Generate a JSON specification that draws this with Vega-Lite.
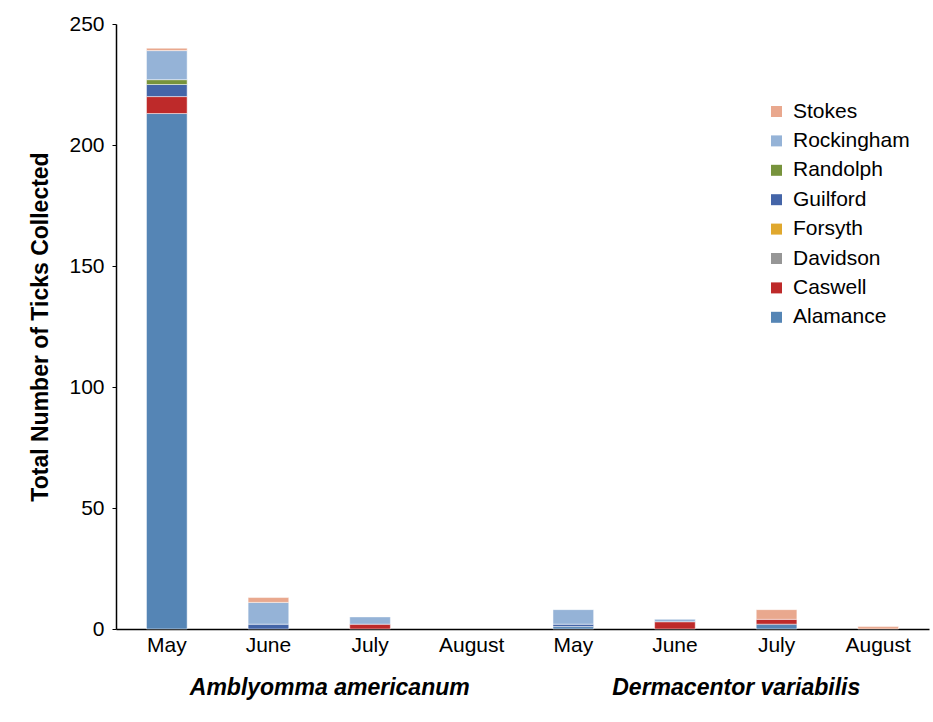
{
  "$schema": "https://vega.github.io/schema/vega-lite/v6.json",
  "autosize": "none",
  "width": 813,
  "height": 605,
  "padding": {"left": 116, "top": 24, "right": 4, "bottom": 93},
  "background": "white",
  "config": {
    "font": "Liberation Sans",
    "view": {"stroke": null},
    "axis": {"labelColor": "black", "titleColor": "black", "domainColor": "black", "tickColor": "black", "grid": false}
  },
  "layer": [
    {
      "data": {
        "values": [
          {"species": "Amblyomma americanum", "month": "May", "county": "Alamance", "count": 213},
          {"species": "Amblyomma americanum", "month": "May", "county": "Caswell", "count": 7},
          {"species": "Amblyomma americanum", "month": "May", "county": "Guilford", "count": 5},
          {"species": "Amblyomma americanum", "month": "May", "county": "Randolph", "count": 2},
          {"species": "Amblyomma americanum", "month": "May", "county": "Rockingham", "count": 12},
          {"species": "Amblyomma americanum", "month": "May", "county": "Stokes", "count": 1},
          {"species": "Amblyomma americanum", "month": "June", "county": "Guilford", "count": 2},
          {"species": "Amblyomma americanum", "month": "June", "county": "Rockingham", "count": 9},
          {"species": "Amblyomma americanum", "month": "June", "county": "Stokes", "count": 2},
          {"species": "Amblyomma americanum", "month": "July", "county": "Caswell", "count": 2},
          {"species": "Amblyomma americanum", "month": "July", "county": "Rockingham", "count": 3},
          {"species": "Dermacentor variabilis", "month": "May", "county": "Alamance", "count": 1},
          {"species": "Dermacentor variabilis", "month": "May", "county": "Guilford", "count": 1},
          {"species": "Dermacentor variabilis", "month": "May", "county": "Rockingham", "count": 6},
          {"species": "Dermacentor variabilis", "month": "June", "county": "Caswell", "count": 3},
          {"species": "Dermacentor variabilis", "month": "June", "county": "Rockingham", "count": 1},
          {"species": "Dermacentor variabilis", "month": "July", "county": "Alamance", "count": 2},
          {"species": "Dermacentor variabilis", "month": "July", "county": "Caswell", "count": 2},
          {"species": "Dermacentor variabilis", "month": "July", "county": "Stokes", "count": 4},
          {"species": "Dermacentor variabilis", "month": "August", "county": "Stokes", "count": 1}
        ]
      },
      "transform": [{"calculate": "datum.species + '|' + datum.month", "as": "key"}],
      "mark": {"type": "bar", "stroke": "white", "strokeWidth": 0.6, "strokeOpacity": 0.8},
      "encoding": {
        "x": {
          "field": "key",
          "type": "nominal",
          "sort": null,
          "scale": {
            "domain": ["Amblyomma americanum|May", "Amblyomma americanum|June", "Amblyomma americanum|July", "Amblyomma americanum|August", "Dermacentor variabilis|May", "Dermacentor variabilis|June", "Dermacentor variabilis|July", "Dermacentor variabilis|August"],
            "paddingInner": 0.6,
            "paddingOuter": 0.3
          },
          "axis": {
            "title": null,
            "orient": "bottom",
            "labelExpr": "split(datum.label, '|')[1]",
            "labelAngle": 0,
            "labelFontSize": 21,
            "labelPadding": 5,
            "ticks": false,
            "domainWidth": 1.5
          }
        },
        "y": {
          "field": "count",
          "type": "quantitative",
          "aggregate": "sum",
          "stack": "zero",
          "scale": {"domain": [0, 250], "nice": false},
          "axis": {
            "title": "Total Number of Ticks Collected",
            "titleFontSize": 23,
            "titleFontWeight": "bold",
            "titlePadding": 16,
            "values": [0, 50, 100, 150, 200, 250],
            "labelFontSize": 21,
            "labelPadding": 8,
            "tickSize": 4,
            "domainWidth": 1.5
          }
        },
        "order": {"field": "county", "type": "nominal", "sort": "ascending"},
        "color": {
          "field": "county",
          "type": "nominal",
          "scale": {
            "domain": ["Stokes", "Rockingham", "Randolph", "Guilford", "Forsyth", "Davidson", "Caswell", "Alamance"],
            "range": ["#E9A88E", "#95B3D7", "#77933C", "#4465A8", "#E0A82E", "#969696", "#BE2A2A", "#5585B5"]
          },
          "legend": {
            "title": null,
            "orient": "none",
            "legendX": 650,
            "legendY": 77,
            "padding": 0,
            "symbolType": "square",
            "symbolSize": 121,
            "symbolStrokeWidth": 0,
            "labelFontSize": 21,
            "labelColor": "black",
            "labelOffset": 6,
            "rowPadding": 7.4
          }
        }
      }
    },
    {
      "data": {"values": [{"species": "Amblyomma americanum"}, {"species": "Dermacentor variabilis"}]},
      "mark": {"type": "text", "text": ""},
      "encoding": {
        "x": {
          "field": "species",
          "type": "nominal",
          "scale": {"paddingInner": 0, "paddingOuter": 0, "range": [10, 823]},
          "axis": {
            "title": null,
            "orient": "bottom",
            "labelAngle": 0,
            "labelFontSize": 23,
            "labelFontWeight": "bold",
            "labelFontStyle": "italic",
            "labelLimit": 0,
            "labelPadding": 47,
            "domain": false,
            "ticks": false
          }
        },
        "y": {"datum": 0}
      }
    }
  ],
  "resolve": {"scale": {"x": "independent"}, "axis": {"x": "independent"}}
}
